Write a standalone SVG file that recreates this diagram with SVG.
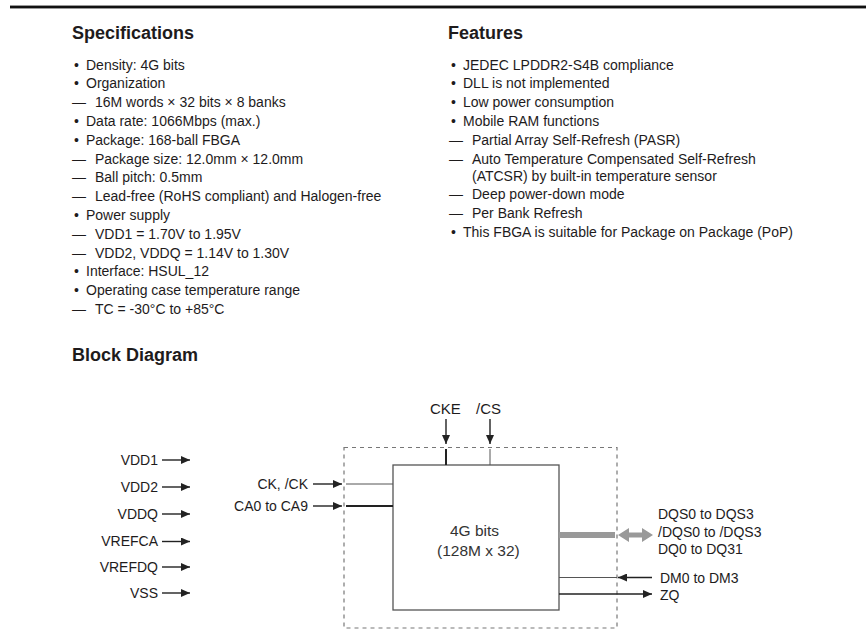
<svg xmlns="http://www.w3.org/2000/svg" width="866" height="631" viewBox="0 0 866 631">
<defs>
<style>
text{font-family:"Liberation Sans",Arial,sans-serif;fill:#1e1b1c}
.h{font-size:18px;font-weight:bold}
.b{font-size:14px}
.d{font-size:14px;fill:#2a2a2a}
.ln{stroke:#222;stroke-width:1.4;fill:none}
.thk{stroke:#222;stroke-width:2;fill:none}
.thin{stroke:#555;stroke-width:1;fill:none}
</style>
<marker id="ah" markerUnits="userSpaceOnUse" markerWidth="10" markerHeight="8" refX="9" refY="4" orient="auto">
<path d="M0,0 L9,4 L0,8 z" fill="#222"/>
</marker>
</defs>
<rect width="866" height="631" fill="#fff"/>
<line x1="10" y1="7" x2="866" y2="7" stroke="#999" stroke-width="4"/>
<line x1="10" y1="7" x2="866" y2="7" stroke="#111" stroke-width="2"/>

<g id="specifications">
<text class="h" x="72" y="39">Specifications</text>
<g class="b">
<text x="74" y="69.5">•</text><text x="86" y="69.5">Density: 4G bits</text>
<text x="74" y="88.3">•</text><text x="86" y="88.3">Organization</text>
<text x="72" y="107.1">—</text><text x="95" y="107.1">16M words × 32 bits × 8 banks</text>
<text x="74" y="125.9">•</text><text x="86" y="125.9">Data rate: 1066Mbps (max.)</text>
<text x="74" y="144.7">•</text><text x="86" y="144.7">Package: 168-ball FBGA</text>
<text x="72" y="163.5">—</text><text x="95" y="163.5">Package size: 12.0mm × 12.0mm</text>
<text x="72" y="182.3">—</text><text x="95" y="182.3">Ball pitch: 0.5mm</text>
<text x="72" y="201.1">—</text><text x="95" y="201.1">Lead-free (RoHS compliant) and Halogen-free</text>
<text x="74" y="219.9">•</text><text x="86" y="219.9">Power supply</text>
<text x="72" y="238.7">—</text><text x="95" y="238.7">VDD1 = 1.70V to 1.95V</text>
<text x="72" y="257.5">—</text><text x="95" y="257.5">VDD2, VDDQ = 1.14V to 1.30V</text>
<text x="74" y="276.3">•</text><text x="86" y="276.3">Interface: HSUL_12</text>
<text x="74" y="295.1">•</text><text x="86" y="295.1">Operating case temperature range</text>
<text x="72" y="313.9">—</text><text x="95" y="313.9">TC = -30°C to +85°C</text>
</g>
</g>

<g id="features">
<text class="h" x="448" y="39">Features</text>
<g class="b">
<text x="451" y="69.5">•</text><text x="463" y="69.5">JEDEC LPDDR2-S4B compliance</text>
<text x="451" y="88.3">•</text><text x="463" y="88.3">DLL is not implemented</text>
<text x="451" y="107.1">•</text><text x="463" y="107.1">Low power consumption</text>
<text x="451" y="125.9">•</text><text x="463" y="125.9">Mobile RAM functions</text>
<text x="449" y="144.7">—</text><text x="472" y="144.7">Partial Array Self-Refresh (PASR)</text>
<text x="449" y="163.5">—</text><text x="472" y="163.5">Auto Temperature Compensated Self-Refresh</text>
<text x="472" y="180.5">(ATCSR) by built-in temperature sensor</text>
<text x="449" y="199.3">—</text><text x="472" y="199.3">Deep power-down mode</text>
<text x="449" y="218">—</text><text x="472" y="218">Per Bank Refresh</text>
<text x="451" y="236.8">•</text><text x="463" y="236.8">This FBGA is suitable for Package on Package (PoP)</text>
</g>
</g>

<text class="h" x="72" y="361">Block Diagram</text>

<g id="package">
<rect x="344" y="447.5" width="273" height="180.5" fill="none" stroke="#777" stroke-width="1.2" stroke-dasharray="4,4"/>
</g>
<g id="core">
<rect x="393" y="465" width="166" height="145" fill="#fff" stroke="#555" stroke-width="1.3"/>
<text x="450" y="536" style="font-size:15.5px;fill:#333">4G bits</text>
<text x="437" y="555.5" style="font-size:15.5px;fill:#333">(128M x 32)</text>
</g>

<g id="power-labels" class="d" text-anchor="end">
<text x="158" y="465">VDD1</text>
<text x="158" y="492">VDD2</text>
<text x="158" y="519">VDDQ</text>
<text x="158" y="546">VREFCA</text>
<text x="158" y="572">VREFDQ</text>
<text x="158" y="598">VSS</text>
</g>
<g id="signal-labels" class="d">
<text x="308" y="489" text-anchor="end">CK, /CK</text>
<text x="308" y="511" text-anchor="end">CA0 to CA9</text>
<text x="430" y="414" style="font-size:15px">CKE</text>
<text x="476" y="414" style="font-size:15px">/CS</text>
<text x="658" y="519">DQS0 to DQS3</text>
<text x="658" y="536.5">/DQS0 to /DQS3</text>
<text x="658" y="554">DQ0 to DQ31</text>
<text x="660" y="583">DM0 to DM3</text>
<text x="660" y="600">ZQ</text>
</g>

<g id="connectors">
<line class="ln" x1="162" y1="460" x2="190" y2="460" marker-end="url(#ah)"/>
<line class="ln" x1="162" y1="487" x2="190" y2="487" marker-end="url(#ah)"/>
<line class="ln" x1="162" y1="514" x2="190" y2="514" marker-end="url(#ah)"/>
<line class="ln" x1="162" y1="541.5" x2="190" y2="541.5" marker-end="url(#ah)"/>
<line class="ln" x1="162" y1="567" x2="190" y2="567" marker-end="url(#ah)"/>
<line class="ln" x1="162" y1="593" x2="190" y2="593" marker-end="url(#ah)"/>

<line class="ln" x1="313" y1="484" x2="342" y2="484" marker-end="url(#ah)"/>
<line class="thin" x1="346" y1="484" x2="393" y2="484"/>
<line class="ln" x1="313" y1="506" x2="342" y2="506" marker-end="url(#ah)"/>
<line class="thk" x1="346" y1="506" x2="393" y2="506"/>

<line class="ln" x1="446" y1="419" x2="446" y2="444" marker-end="url(#ah)"/>
<line class="thk" x1="446" y1="449" x2="446" y2="465"/>
<line class="ln" x1="490" y1="419" x2="490" y2="444" marker-end="url(#ah)"/>
<line class="thin" x1="490" y1="449" x2="490" y2="465"/>

<line x1="559" y1="535" x2="615" y2="535" stroke="#999" stroke-width="6"/>
<polygon points="618,535 629,528 629,532.5 642,532.5 642,528 653,535 642,542 642,537.5 629,537.5 629,542" fill="#999"/>

<line class="ln" x1="652" y1="577.5" x2="618" y2="577.5" marker-end="url(#ah)"/>
<line class="thin" x1="559" y1="577.5" x2="617" y2="577.5"/>
<line class="ln" x1="559" y1="594" x2="652" y2="594" marker-end="url(#ah)"/>
</g>
</svg>
